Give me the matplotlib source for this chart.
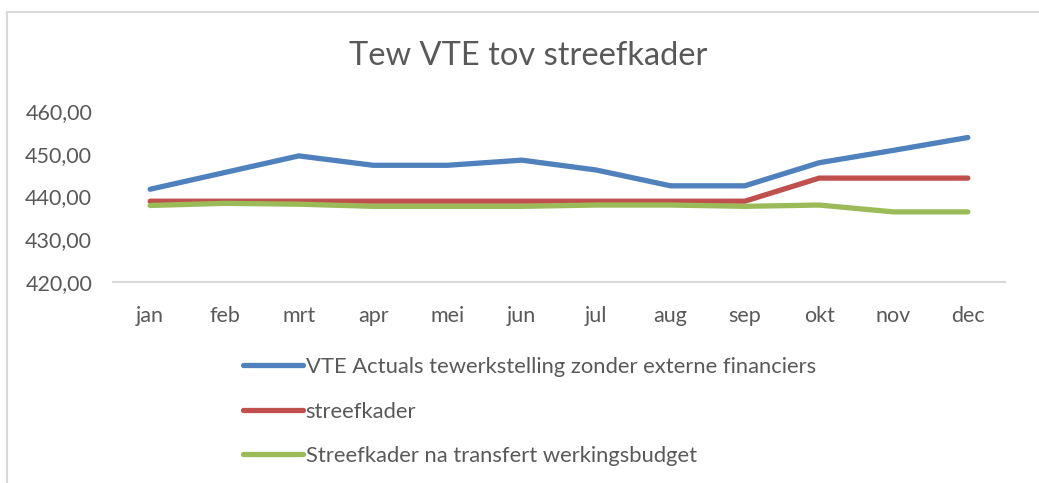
import matplotlib
matplotlib.use("Agg")
import matplotlib.pyplot as plt
from matplotlib.lines import Line2D
from matplotlib.ticker import FuncFormatter

months = ["jan", "feb", "mrt", "apr", "mei", "jun", "jul", "aug", "sep", "okt", "nov", "dec"]
vte_actuals = [441.7, 445.6, 449.5, 447.3, 447.3, 448.5, 446.2, 442.5, 442.5, 447.9, 450.8, 453.8]
streefkader = [438.9, 438.9, 438.9, 438.9, 438.9, 438.9, 438.9, 438.9, 438.9, 444.3, 444.3, 444.3]
streefkader_na = [437.9, 438.4, 438.2, 437.7, 437.7, 437.7, 438.0, 438.0, 437.7, 438.0, 436.4, 436.4]

labels = ["VTE Actuals tewerkstelling zonder externe financiers",
          "streefkader",
          "Streefkader na transfert werkingsbudget"]
colors = ["#4F81BD", "#C0504D", "#9BBB59"]

plt.rcParams["font.family"] = ["Lato", "DejaVu Sans"]
txt = "#595959"

W, H = 1039, 483
fig = plt.figure(figsize=(W / 100, H / 100), dpi=100)
ax = fig.add_axes([113 / W, 201 / H, 892 / W, 171 / H])

x = range(len(months))
for series, c, lab in zip([vte_actuals, streefkader, streefkader_na], colors, labels):
    ax.plot(x, series, color=c, lw=3.8, label=lab, solid_capstyle="round", solid_joinstyle="round")

ax.set_xlim(-0.5, len(months) - 0.5)
ax.set_ylim(420, 460)
ax.set_yticks([420, 430, 440, 450, 460])
ax.yaxis.set_major_formatter(FuncFormatter(lambda v, p: f"{v:.2f}".replace(".", ",")))
ax.set_xticks(list(x))
ax.set_xticklabels(months)
ax.tick_params(axis="both", length=0, labelsize=15.5, labelcolor=txt)
ax.tick_params(axis="y", pad=15)
ax.tick_params(axis="x", pad=17)
for s in ["top", "right", "left"]:
    ax.spines[s].set_visible(False)
ax.spines["bottom"].set_color("#D9D9D9")
ax.spines["bottom"].set_linewidth(1.5)

fig.text(528 / W, 1 - 56 / H, "Tew VTE tov streefkader", ha="center", va="center",
         fontsize=23.5, color=txt)

fig.legend(loc="upper left", bbox_to_anchor=(243 / W, 1 - 357 / H), frameon=False,
           fontsize=15.8, labelcolor=txt, handlelength=2.75, handletextpad=0.1,
           labelspacing=1.12, borderpad=0, borderaxespad=0)

# chart area border (top and left edges visible)
fig.add_artist(Line2D([7 / W, 7 / W], [0, 1 - 12 / H], transform=fig.transFigure, color="#D9D9D9", lw=1.5))
fig.add_artist(Line2D([7 / W, 1], [1 - 12 / H, 1 - 12 / H], transform=fig.transFigure, color="#D9D9D9", lw=1.5))

fig.savefig("out.png", dpi=100)
